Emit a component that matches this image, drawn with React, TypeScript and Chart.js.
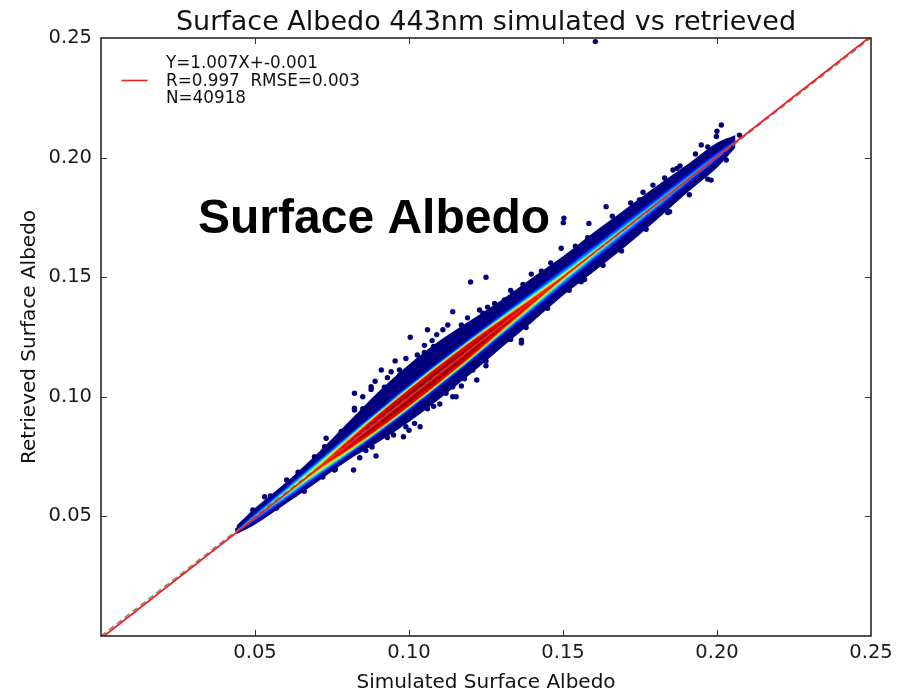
import React, { useEffect, useRef } from 'react';
import { Chart, registerables } from 'chart.js';

Chart.register(...registerables);

const TITLE = 'Surface Albedo 443nm simulated vs retrieved';
const X_TITLE = 'Simulated Surface Albedo';
const Y_TITLE = 'Retrieved Surface Albedo';
const OVERLAY = 'Surface Albedo';
const LEGEND_LINES = ['Y=1.007X+-0.001', 'R=0.997  RMSE=0.003', 'N=40918'];

const AXIS_MIN = 0;
const AXIS_MAX = 0.25;
const TICK_STEP = 0.05;

// regression line and 1:1 line
const FIT_X = [0, 0.25];
const FIT_Y = [-0.001, 0.25075];
const ONE_X = [0, 0.25];
const ONE_Y = [0, 0.25];

// density cloud: sample positions along the diagonal
const BAND_X = [0.044, 0.05, 0.06, 0.07, 0.08, 0.09, 0.10, 0.11, 0.12, 0.13, 0.14, 0.15, 0.16, 0.17, 0.18, 0.19, 0.20, 0.206];
const RIDGE_Y = [0.0437, 0.0497, 0.0596, 0.0696, 0.0795, 0.0895, 0.0996, 0.1097, 0.1198, 0.1299, 0.1399, 0.1500, 0.1601, 0.1702, 0.1803, 0.1905, 0.2005, 0.2066];

// outer (navy) dense envelope
const NAVY_UPPER = [0.0462, 0.0535, 0.0642, 0.0760, 0.0890, 0.1020, 0.1135, 0.1235, 0.1320, 0.1405, 0.1498, 0.1588, 0.1688, 0.1782, 0.1878, 0.1968, 0.2062, 0.2095];
const NAVY_LOWER = [0.0425, 0.0466, 0.0553, 0.0642, 0.0733, 0.0810, 0.0895, 0.0992, 0.1095, 0.1205, 0.1312, 0.1423, 0.1523, 0.1625, 0.1735, 0.1850, 0.1958, 0.2042];

// half widths of the coloured density levels (jet colormap, outer to inner)
const HALF_BLUE = [0.0007, 0.0018, 0.0027, 0.0035, 0.0044, 0.0051, 0.0055, 0.0055, 0.0052, 0.0047, 0.0041, 0.0036, 0.0032, 0.0029, 0.0026, 0.0022, 0.0017, 0.0009];
const HALF_AZURE = [0.0002, 0.0011, 0.0020, 0.0028, 0.0038, 0.0045, 0.0049, 0.0049, 0.0046, 0.0040, 0.0034, 0.0028, 0.0023, 0.0020, 0.0017, 0.0013, 0.0009, 0.0003];
const HALF_CYAN = [0, 0.0005, 0.0014, 0.0022, 0.0033, 0.0041, 0.0045, 0.0045, 0.0042, 0.0035, 0.0028, 0.0020, 0.0015, 0.0012, 0.0009, 0.0006, 0.0003, 0];
const HALF_GREEN = [0, 0, 0.0008, 0.0017, 0.0029, 0.0038, 0.0042, 0.0042, 0.0039, 0.0031, 0.0022, 0.0014, 0.0009, 0.0006, 0.0003, 0, 0, 0];
const HALF_YELLOW = [0, 0, 0.0003, 0.0012, 0.0026, 0.0036, 0.0040, 0.0040, 0.0037, 0.0028, 0.0019, 0.0010, 0.0005, 0.0002, 0, 0, 0, 0];
const HALF_ORANGE = [0, 0, 0, 0.0006, 0.0022, 0.0033, 0.0037, 0.0037, 0.0034, 0.0025, 0.0015, 0.0006, 0.0002, 0, 0, 0, 0, 0];
const HALF_RED = [0, 0, 0, 0.0002, 0.0017, 0.0029, 0.0034, 0.0034, 0.0030, 0.0020, 0.0010, 0.0003, 0, 0, 0, 0, 0, 0];
const HALF_DARKRED = [0, 0, 0, 0, 0.0005, 0.0016, 0.0021, 0.0021, 0.0016, 0.0008, 0, 0, 0, 0, 0, 0, 0, 0];

// scattered low-density points
const DOT_X = [
  0.0444, 0.0493, 0.0531, 0.0601, 0.0628, 0.0603, 0.0666, 0.0693, 0.0726, 0.0731, 0.0758, 0.0761, 0.0820, 0.0823,
  0.0823, 0.0823, 0.0877, 0.0877, 0.0893, 0.0910, 0.0942, 0.0969, 0.0982, 0.1004, 0.1018, 0.1023, 0.1027, 0.1036,
  0.1012, 0.1105, 0.1110, 0.1126, 0.1142, 0.1142, 0.1142, 0.1153, 0.1200, 0.1207, 0.1220, 0.1229, 0.1250, 0.1272,
  0.1278, 0.1310, 0.1337, 0.1365, 0.1365, 0.1397, 0.1494, 0.1503, 0.1501, 0.1559, 0.1584, 0.1605, 0.1640, 0.1748,
  0.1754, 0.1792, 0.1846, 0.1857, 0.1870, 0.1949, 0.1959, 0.1981, 0.1998, 0.2000, 0.2014, 0.2073,
  0.085, 0.092, 0.097, 0.105, 0.108, 0.116, 0.124, 0.133, 0.137, 0.143, 0.146, 0.154, 0.158, 0.166, 0.172, 0.176,
  0.183, 0.188, 0.193, 0.197,
  0.086, 0.093, 0.099, 0.106, 0.112, 0.118, 0.125, 0.133, 0.138, 0.145, 0.152, 0.157, 0.163, 0.169, 0.177, 0.184,
  0.191, 0.197, 0.203,
  0.055, 0.057, 0.064, 0.066, 0.072, 0.078,
  0.0850, 0.0890, 0.0930, 0.0955, 0.0990, 0.1050, 0.1075, 0.1090, 0.1170, 0.1190, 0.1255, 0.1060,
  0.0950, 0.1000, 0.1080, 0.1100, 0.1170, 0.1250, 0.0880, 0.0840,
];
const DOT_Y = [
  0.0443, 0.0527, 0.0582, 0.0610, 0.0590, 0.0652, 0.0694, 0.0750, 0.0791, 0.0827, 0.0694, 0.0697, 0.0694, 0.0952,
  0.1015, 0.0945, 0.1031, 0.1042, 0.0753, 0.1112, 0.1105, 0.1112, 0.0833, 0.1249, 0.0889, 0.0945, 0.1175, 0.0875,
  0.0931, 0.1175, 0.1280, 0.1300, 0.1356, 0.1000, 0.1042, 0.1000, 0.1480, 0.1112, 0.1070, 0.1363, 0.1500, 0.1196,
  0.1390, 0.1405, 0.1433, 0.1237, 0.1225, 0.1513, 0.1621, 0.1747, 0.1728, 0.1481, 0.1725, 0.2485, 0.1795, 0.1823,
  0.1823, 0.1885, 0.1774, 0.1948, 0.1955, 0.2053, 0.1941, 0.1906, 0.2088, 0.2110, 0.2136, 0.2094,
  0.0950, 0.1040, 0.1090, 0.1185, 0.1210, 0.1270, 0.1350, 0.1445, 0.1470, 0.1525, 0.1560, 0.1630, 0.1665, 0.1755,
  0.1810, 0.1855, 0.1915, 0.1965, 0.2015, 0.2045,
  0.0775, 0.0830, 0.0875, 0.0950, 0.1015, 0.1075, 0.1150, 0.1240, 0.1290, 0.1370, 0.1445, 0.1490, 0.1550, 0.1610,
  0.1700, 0.1770, 0.1845, 0.1910, 0.1990,
  0.0585, 0.0535, 0.0685, 0.0605, 0.0665, 0.0855,
  0.1000, 0.1065, 0.1080, 0.1150, 0.1160, 0.1215, 0.1235, 0.1260, 0.1300, 0.1330, 0.1375, 0.1280,
  0.0840, 0.0860, 0.0960, 0.0970, 0.1045, 0.1130, 0.0790, 0.0745,
];

const NAVY = '#00007f';

type Pt = { x: number; y: number };
const pts = (xs: number[], ys: number[]): Pt[] => xs.map((x, i) => ({ x, y: ys[i] }));

function bandPair(half: number[], color: string) {
  const upper = pts(BAND_X, RIDGE_Y.map((c, i) => c + half[i]));
  const lower = pts(BAND_X, RIDGE_Y.map((c, i) => c - half[i]));
  return [
    { data: upper, borderWidth: 0, pointRadius: 0, tension: 0.35, fill: '+1', backgroundColor: color, borderColor: color },
    { data: lower, borderWidth: 0, pointRadius: 0, tension: 0.35, fill: false, backgroundColor: color, borderColor: color },
  ];
}

const FONT = '"DejaVu Sans", "Liberation Sans", sans-serif';

const decorPlugin = {
  id: 'decor',
  afterDatasetsDraw(chart: any) {
    const { ctx } = chart;
    ctx.save();
    ctx.fillStyle = '#000';
    ctx.font = 'bold 48px "Liberation Sans", Arial, sans-serif';
    ctx.textAlign = 'left';
    ctx.textBaseline = 'alphabetic';
    ctx.fillText(OVERLAY, 198, 233);
    ctx.restore();
  },
  afterDraw(chart: any) {
    const { ctx, chartArea: a, scales } = chart;
    const xs = scales.x;
    const ys = scales.y;
    ctx.save();
    // frame
    ctx.strokeStyle = '#1a1a1a';
    ctx.lineWidth = 1.5;
    ctx.strokeRect(a.left, a.top, a.right - a.left, a.bottom - a.top);
    // inside ticks on four sides
    ctx.lineWidth = 1;
    ctx.strokeStyle = '#333';
    const tl = 6;
    xs.ticks.forEach((t: any) => {
      if (t.value <= AXIS_MIN + 1e-9 || t.value >= AXIS_MAX - 1e-9) return;
      const px = Math.round(xs.getPixelForValue(t.value)) + 0.5;
      ctx.beginPath();
      ctx.moveTo(px, a.bottom);
      ctx.lineTo(px, a.bottom - tl);
      ctx.moveTo(px, a.top);
      ctx.lineTo(px, a.top + tl);
      ctx.stroke();
    });
    ys.ticks.forEach((t: any) => {
      if (t.value <= AXIS_MIN + 1e-9 || t.value >= AXIS_MAX - 1e-9) return;
      const py = Math.round(ys.getPixelForValue(t.value)) + 0.5;
      ctx.beginPath();
      ctx.moveTo(a.left, py);
      ctx.lineTo(a.left + tl, py);
      ctx.moveTo(a.right, py);
      ctx.lineTo(a.right - tl, py);
      ctx.stroke();
    });
    // title
    ctx.fillStyle = '#111';
    ctx.textAlign = 'center';
    ctx.textBaseline = 'alphabetic';
    ctx.font = `27px ${FONT}`;
    ctx.fillText(TITLE, (a.left + a.right) / 2, 29.5);
    // axis titles
    ctx.font = `20px ${FONT}`;
    ctx.fillText(X_TITLE, (a.left + a.right) / 2, 688);
    ctx.save();
    ctx.translate(35, (a.top + a.bottom) / 2);
    ctx.rotate(-Math.PI / 2);
    ctx.fillText(Y_TITLE, 0, 0);
    ctx.restore();
    // legend
    ctx.strokeStyle = '#e82020';
    ctx.lineWidth = 1.6;
    ctx.beginPath();
    ctx.moveTo(121.5, 80.5);
    ctx.lineTo(147.5, 80.5);
    ctx.stroke();
    ctx.textAlign = 'left';
    ctx.font = `16.8px ${FONT}`;
    const baselines = [68, 85.7, 103.4];
    LEGEND_LINES.forEach((s, i) => ctx.fillText(s, 166, baselines[i]));
    ctx.restore();
  },
};

export default function App() {
  const ref = useRef<HTMLCanvasElement | null>(null);
  useEffect(() => {
    if (!ref.current) return;
    const datasets: any[] = [
      { data: pts(FIT_X, FIT_Y), borderColor: '#f02020', borderWidth: 1.8, pointRadius: 0, fill: false, tension: 0 },
      { data: pts(ONE_X, ONE_Y), borderColor: 'rgba(110,125,95,0.9)', borderWidth: 1.5, borderDash: [6, 4], pointRadius: 0, fill: false, tension: 0 },
      ...bandPair(HALF_DARKRED, '#9a0000'),
      ...bandPair(HALF_RED, '#e00000'),
      ...bandPair(HALF_ORANGE, '#ff6a00'),
      ...bandPair(HALF_YELLOW, '#ffd800'),
      ...bandPair(HALF_GREEN, '#a8ff50'),
      ...bandPair(HALF_CYAN, '#18e8f0'),
      ...bandPair(HALF_AZURE, '#0080ff'),
      ...bandPair(HALF_BLUE, '#0018ff'),
      { data: pts(DOT_X, DOT_Y), showLine: false, pointRadius: 2.7, pointBorderWidth: 0, backgroundColor: NAVY, borderColor: NAVY, pointBackgroundColor: NAVY, fill: false },
      { data: pts(BAND_X, NAVY_UPPER), borderWidth: 0, pointRadius: 0, tension: 0.35, fill: '+1', backgroundColor: NAVY, borderColor: NAVY },
      { data: pts(BAND_X, NAVY_LOWER), borderWidth: 0, pointRadius: 0, tension: 0.35, fill: false, backgroundColor: NAVY, borderColor: NAVY },
    ];
    const tickFont = { family: FONT, size: 19.5 };
    const fmt = (v: any) => (Math.abs(Number(v)) < 1e-9 ? '' : Number(v).toFixed(2));
    const chart = new Chart(ref.current, {
      type: 'line',
      data: { datasets },
      options: {
        animation: false,
        responsive: false,
        events: [],
        layout: { padding: { top: 38, right: 46, bottom: 0, left: 0 } },
        plugins: { legend: { display: false }, tooltip: { enabled: false }, title: { display: false } },
        scales: {
          x: {
            type: 'linear',
            min: AXIS_MIN,
            max: AXIS_MAX,
            grid: { display: false, drawTicks: false },
            border: { display: false },
            ticks: { stepSize: TICK_STEP, callback: fmt, font: tickFont, color: '#1a1a1a', padding: 5, maxRotation: 0, autoSkip: false },
            afterFit: (s: any) => { s.height = 58; },
          },
          y: {
            type: 'linear',
            min: AXIS_MIN,
            max: AXIS_MAX,
            grid: { display: false, drawTicks: false },
            border: { display: false },
            ticks: { stepSize: TICK_STEP, callback: fmt, font: tickFont, color: '#1a1a1a', padding: 9, autoSkip: false },
            afterFit: (s: any) => { s.width = 101; },
          },
        },
      } as any,
      plugins: [decorPlugin],
    });
    return () => chart.destroy();
  }, []);
  return (
    <div style={{ position: 'absolute', left: 0, top: 0, width: 917, height: 694, background: '#fff' }}>
      <canvas ref={ref} width={917} height={694} style={{ width: 917, height: 694, display: 'block' }} />
    </div>
  );
}
